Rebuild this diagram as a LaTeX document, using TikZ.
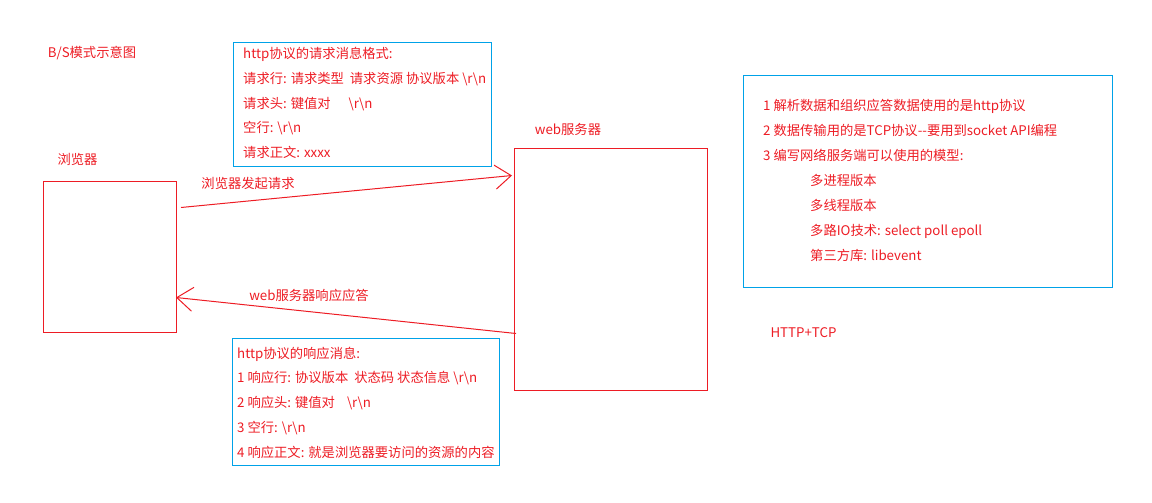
\documentclass[tikz,border=0pt]{standalone}
\usepackage{fontspec}
\setmainfont{Noto Sans CJK SC}
\usepackage{tikz}
\usetikzlibrary{positioning}
\usetikzlibrary{arrows.meta}
\definecolor{paintred}{HTML}{ED1C24}
\definecolor{paintblue}{HTML}{00A2E8}
\newcommand{\crlfmark}{\textbackslash r\textbackslash n}

\begin{document}
\begin{tikzpicture}
	[
		x = 1pt, y = -1pt,
		every node/.style = {inner sep = 0pt, text = paintred, font = \fontsize{13.3}{24.75}\selectfont},
		host/.style = {rectangle, draw = paintred, line width = 1pt, anchor = north west},
		msgbox/.style = {rectangle, draw = paintblue, line width = 1pt, anchor = north west},
		msgtext/.style = {align = left},
		link/.style = {draw = paintred, line width = 1pt, -{Straight Barb[length = 16pt, width = 24pt]}},
	]
	\useasboundingbox (0,0) rectangle (1152,503);
	\node (title) at (92,53) {B/S模式示意图};
	\node (browser) [host, minimum width = 133pt, minimum height = 151pt] at (43,181) {};
	\node (server) [host, minimum width = 193pt, minimum height = 242pt] at (514,148) {};
	\node (browserlabel) at (77.5,159) {浏览器};
	\node (serverlabel) at (568,129) {web服务器};
	% request format
	\node (reqbox) [msgbox, minimum width = 258pt, minimum height = 124pt] at (233,42) {};
	\node (reqtext) [msgtext, below right = 5pt and 10pt of reqbox.north west]
		{http协议的请求消息格式:\\
		请求行: 请求类型\ \ 请求资源 协议版本 \crlfmark\\
		请求头: 键值对\hspace{18pt}\crlfmark\\
		空行: \crlfmark\\
		请求正文: xxxx};
	% response format
	\node (respbox) [msgbox, minimum width = 267pt, minimum height = 127pt] at (232,338) {};
	\node (resptext) [msgtext, below right = 8.5pt and 5pt of respbox.north west]
		{http协议的响应消息:\\
		1 响应行: 协议版本\hspace{6pt}状态码 状态信息 \crlfmark\\
		2 响应头: 键值对\hspace{12pt}\crlfmark\\
		3 空行: \crlfmark\\
		4 响应正文: 就是浏览器要访问的资源的内容};
	% notes
	\node (notebox) [msgbox, minimum width = 369pt, minimum height = 212pt] at (743,75) {};
	\node (notetext) [msgtext, font = \fontsize{13.3}{25}\selectfont, below right = 24pt and 20pt of notebox.north west]
		{1 解析数据和组织应答数据使用的是http协议\\
		2 数据传输用的是TCP协议-{}-要用到socket API编程\\
		3 编写网络服务端可以使用的模型:\\
		\hspace*{47pt}多进程版本\\
		\hspace*{47pt}多线程版本\\
		\hspace*{47pt}多路IO技术: select poll epoll\\
		\hspace*{47pt}第三方库: libevent};
	\node (protocol) at (803.5,333) {HTTP+TCP};
	% request and response
	\draw [link] ([shift = {(4,-49.5)}]browser.east) -- ([shift = {(-2,-94)}]server.west);
	\node (reqlabel) at (248,183) {浏览器发起请求};
	\draw [link] ([shift = {(2,64)}]server.west) -- ([shift = {(-1,40.5)}]browser.east);
	\node (resplabel) at (309,295) {web服务器响应应答};
\end{tikzpicture}
\end{document}
